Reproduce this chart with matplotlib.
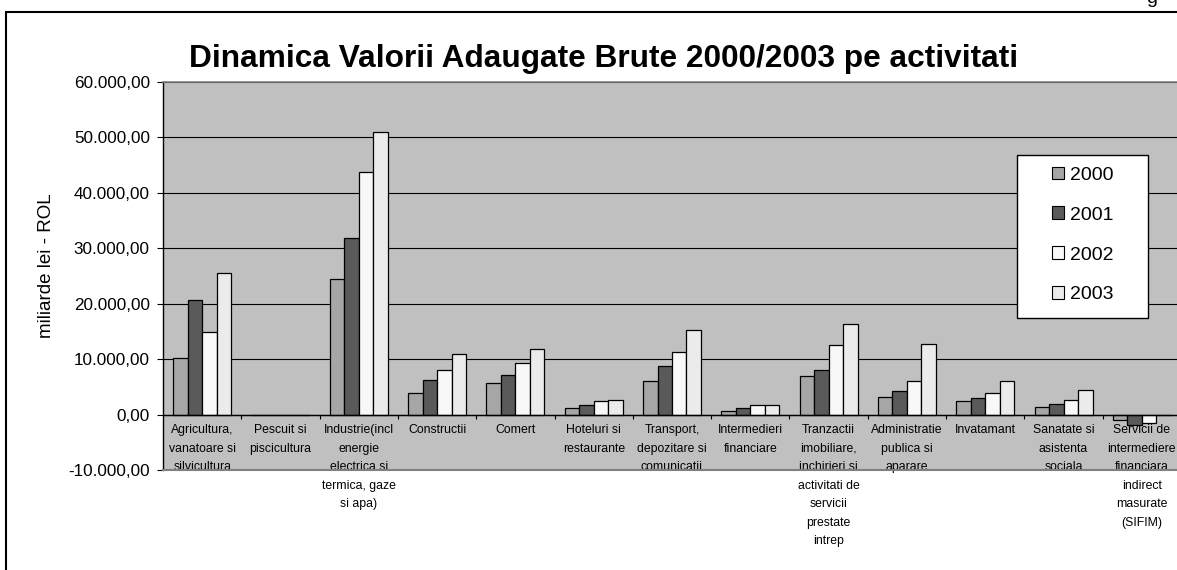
import matplotlib
matplotlib.use("Agg")
import matplotlib.pyplot as plt
import numpy as np
from matplotlib.patches import Rectangle, Patch
from matplotlib.ticker import FuncFormatter, FixedLocator, NullFormatter

plt.rcParams['font.family'] = ['Liberation Sans', 'DejaVu Sans']

categories = [
    "Agricultura,\nvanatoare si\nsilvicultura",
    "Pescuit si\npiscicultura",
    "Industrie(incl\nenergie\nelectrica si\ntermica, gaze\nsi apa)",
    "Constructii",
    "Comert",
    "Hoteluri si\nrestaurante",
    "Transport,\ndepozitare si\ncomunicatii",
    "Intermedieri\nfinanciare",
    "Tranzactii\nimobiliare,\ninchirieri si\nactivitati de\nservicii\nprestate\nintrep",
    "Administratie\npublica si\naparare",
    "Invatamant",
    "Sanatate si\nasistenta\nsociala",
    "Servicii de\nintermediere\nfinanciara\nindirect\nmasurate\n(SIFIM)",
]

years = ["2000", "2001", "2002", "2003"]
v2000 = [10200, 0, 24500, 3900, 5700, 1150, 6000, 600, 6900, 3250, 2400, 1450, -900]
v2001 = [20600, 0, 31900, 6300, 7200, 1800, 8700, 1200, 8100, 4200, 3000, 1870, -1800]
v2002 = [14900, 0, 43800, 8000, 9300, 2400, 11300, 1800, 12500, 6000, 3900, 2700, -1450]
v2003 = [25600, 0, 51000, 11000, 11900, 2650, 15300, 1800, 16400, 12800, 6000, 4450, 0]
series = [v2000, v2001, v2002, v2003]
colors = ["#A6A6A6", "#5A5A5A", "#F8F8F8", "#EBEBEB"]

W, H = 1177, 570
fig = plt.figure(figsize=(W / 100, H / 100), dpi=100)
fig.patch.set_facecolor("white")

# outer chart frame
fig.patches.append(Rectangle((6 / W, -0.1), 1.2, 1.1 - 12.5 / H, fill=False,
                             edgecolor="black", linewidth=1.5,
                             transform=fig.transFigure, figure=fig))
fig.text(1152 / W, 1 - 3 / H, "g", fontsize=14, ha="center", va="baseline")

ax = fig.add_axes([163 / W, 1 - 470 / H, 1018 / W, 388 / H])
ax.set_facecolor("#C0C0C0")

x = np.arange(len(categories))
w = 0.185
for j, (vals, col, yr) in enumerate(zip(series, colors, years)):
    ax.bar(x + (j - 1.5) * w, vals, w, color=col, edgecolor="black",
           linewidth=0.9, zorder=3, label=yr)

ax.set_xlim(-0.5, len(categories) - 0.5)
ax.set_ylim(-10000, 60000)

ax.set_axisbelow(True)
ax.set_yticks(np.arange(-10000, 60001, 10000))
ax.yaxis.grid(True, color="black", linewidth=0.8)
ax.yaxis.set_major_formatter(FuncFormatter(
    lambda v, p: f"{v:,.2f}".replace(",", "X").replace(".", ",").replace("X", ".")))
ax.tick_params(axis="y", direction="out", length=4.5, width=0.8, pad=5,
               labelsize=12.3, colors="black")

ax.spines["left"].set_color("black")
ax.spines["left"].set_linewidth(1.0)
ax.spines["top"].set_color("#808080")
ax.spines["top"].set_linewidth(1.2)
ax.spines["right"].set_visible(False)
ax.spines["bottom"].set_position(("data", 0))
ax.spines["bottom"].set_color("black")
ax.spines["bottom"].set_linewidth(1.0)
ax.spines["bottom"].set_zorder(3.5)
ax.axhline(-10000, color="#808080", linewidth=1.5, zorder=3.6, clip_on=False)

ax.xaxis.set_major_locator(FixedLocator(np.arange(0.5, len(categories), 1.0)))
ax.xaxis.set_major_formatter(NullFormatter())
ax.xaxis.set_minor_locator(FixedLocator(x))
ax.set_xticklabels(categories, minor=True)
ax.tick_params(axis="x", which="major", direction="out", length=3, width=0.8,
               colors="black")
ax.tick_params(axis="x", which="minor", length=0, pad=7, labelsize=8.8)
for lab in ax.get_xticklabels(minor=True):
    lab.set_multialignment("center")
    lab.set_linespacing(1.72)

ax.set_ylabel("miliarde lei - ROL", fontsize=13.5)
ax.yaxis.label.set_va("center")
ax.yaxis.set_label_coords((46.7 - 163) / 1018, (470 - 265.5) / 388)

fig.text(604 / W, 1 - 59 / H, "Dinamica Valorii Adaugate Brute 2000/2003 pe activitati",
         fontsize=22.8, fontweight="bold", ha="center", va="center")

# legend box
bx0, by0, bx1, by1 = 1017, 155, 1148, 318
ax.add_patch(Rectangle((bx0 / W, 1 - by1 / H), (bx1 - bx0) / W, (by1 - by0) / H,
                       facecolor="white", edgecolor="black", linewidth=1.0,
                       transform=fig.transFigure, zorder=4, clip_on=False))
handles = [Patch(facecolor=c, edgecolor="black", linewidth=0.8) for c in colors]
ax.legend(handles, years, loc="center",
          bbox_to_anchor=(bx0 / W, 1 - (by1 - 1.5) / H, (bx1 - bx0) / W, (by1 - by0) / H),
          bbox_transform=fig.transFigure, frameon=False, fontsize=14,
          handlelength=0.62, handleheight=0.62, handletextpad=0.3,
          labelspacing=1.17, borderpad=0.3)

fig.savefig("out.png", dpi=100)
